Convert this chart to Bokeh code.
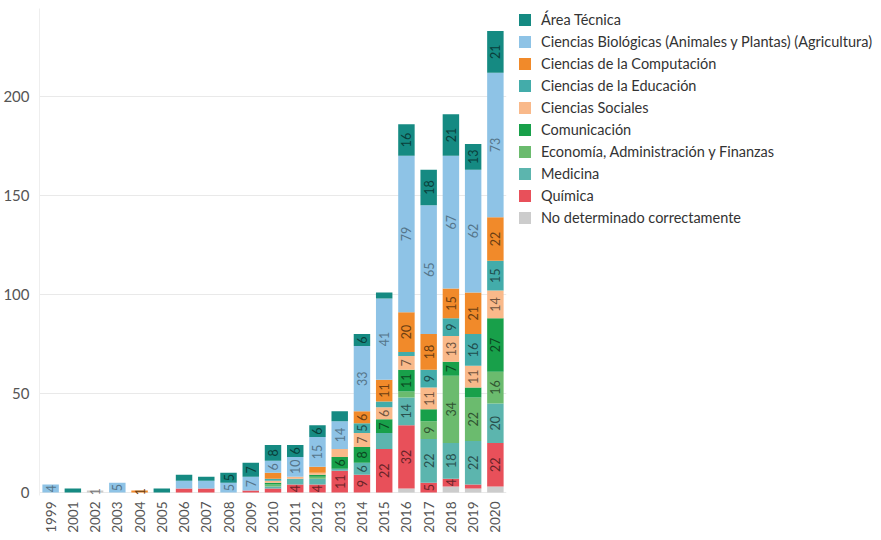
import math
from bokeh.plotting import figure
from bokeh.models import (ColumnDataSource, Range1d, FixedTicker, Legend, LegendItem)
from bokeh.core.properties import value
from bokeh.embed import file_html
from bokeh.resources import INLINE

# ---------------- data ----------------
years = ["1999", "2001", "2002", "2003", "2004", "2005", "2006", "2007", "2008", "2009",
         "2010", "2011", "2012", "2013", "2014", "2015", "2016", "2017", "2018", "2019", "2020"]

no_determinado = [0, 0, 1, 0, 0, 0, 0, 0, 0, 0, 0, 0, 0, 0, 0, 0, 2, 0, 3, 2, 3]
quimica        = [0, 0, 0, 0, 0, 0, 2, 2, 0, 1, 2, 4, 4, 11, 9, 22, 32, 5, 4, 2, 22]
medicina       = [0, 0, 0, 0, 0, 0, 0, 0, 0, 0, 1, 3, 3, 1, 6, 8, 14, 22, 18, 22, 20]
economia       = [0, 0, 0, 0, 0, 0, 0, 0, 0, 0, 1, 0, 1, 0, 0, 0, 3, 9, 34, 22, 16]
comunicacion   = [0, 0, 0, 0, 0, 0, 0, 0, 0, 0, 1, 0, 1, 6, 8, 7, 11, 6, 7, 5, 27]
sociales       = [0, 0, 0, 0, 0, 0, 0, 0, 0, 0, 1, 1, 1, 4, 7, 6, 7, 11, 13, 11, 14]
educacion      = [0, 0, 0, 0, 0, 0, 0, 0, 0, 0, 1, 0, 0, 0, 5, 3, 2, 9, 9, 16, 15]
computacion    = [0, 0, 0, 0, 1, 0, 0, 0, 0, 0, 3, 0, 3, 0, 6, 11, 20, 18, 15, 21, 22]
biologicas     = [4, 0, 0, 5, 0, 0, 4, 4, 5, 7, 6, 10, 15, 14, 33, 41, 79, 65, 67, 62, 73]
area_tecnica   = [0, 2, 0, 0, 0, 2, 3, 2, 5, 7, 8, 6, 6, 5, 6, 3, 16, 18, 21, 13, 21]

# stacking order, bottom to top
series_names = ["No determinado correctamente", "Química", "Medicina",
                "Economía, Administración y Finanzas", "Comunicación", "Ciencias Sociales",
                "Ciencias de la Educación", "Ciencias de la Computación",
                "Ciencias Biológicas (Animales y Plantas) (Agricultura)", "Área Técnica"]
series_values = [no_determinado, quimica, medicina, economia, comunicacion, sociales,
                 educacion, computacion, biologicas, area_tecnica]
series_colors = ["#cccccc", "#e8505a", "#5cb5ae", "#6bbb6e", "#18a04a", "#f9b98a",
                 "#43acaa", "#f18a2a", "#8ec3e6", "#158a82"]

y_ticks = [0, 50, 100, 150, 200]

# segment labels Tableau hid / showed despite their size
label_min = 4
hidden_labels = [("2006", "Ciencias Biológicas (Animales y Plantas) (Agricultura)"),
                 ("2007", "Ciencias Biológicas (Animales y Plantas) (Agricultura)"),
                 ("2013", "Ciencias Sociales"), ("2013", "Área Técnica"),
                 ("2015", "Medicina"), ("2017", "Comunicación"), ("2019", "Comunicación")]
extra_labels = [("2002", "No determinado correctamente"), ("2004", "Ciencias de la Computación")]

FONT = "Lato"

# ---------------- figure ----------------
p = figure(x_range=years, y_range=Range1d(-1.5, 244.4), frame_width=467, frame_height=487,
           output_backend="svg", toolbar_location=None,
           min_border_left=28, min_border_right=0, min_border_top=8, min_border_bottom=30)
p.outline_line_color = None
p.background_fill_color = "white"

src = ColumnDataSource(dict(years=years, **{f"s{i}": v for i, v in enumerate(series_values)}))
renderers = p.vbar_stack([f"s{i}" for i in range(len(series_values))], x="years", width=0.74,
                         color=series_colors, source=src, line_width=0)

# segment labels
def darker(hexc, f=0.5):
    r, g, b = int(hexc[1:3], 16), int(hexc[3:5], 16), int(hexc[5:7], 16)
    return "#%02x%02x%02x" % (int(r * f), int(g * f), int(b * f))

lx, ly, lt, lc = [], [], [], []
for j, yr in enumerate(years):
    base = 0
    for name, vals, col in zip(series_names, series_values, series_colors):
        v = vals[j]
        show = (v >= label_min and (yr, name) not in hidden_labels) or (yr, name) in extra_labels
        if v > 0 and show:
            lx.append(yr)
            ly.append(base + v / 2)
            lt.append(str(v))
            lc.append(darker(col, 0.45 if col not in ("#cccccc", "#8ec3e6") else 0.6))
        base += v
lab_src = ColumnDataSource(dict(x=lx, y=ly, text=lt, color=lc))
p.text(x="x", y="y", text="text", source=lab_src, angle=math.pi / 2,
       text_align="center", text_baseline="middle", text_color="color",
       text_font=value(FONT), text_font_size=value("12.5px"))

# axes
p.yaxis.ticker = FixedTicker(ticks=y_ticks)
p.yaxis.major_tick_line_color = None
p.yaxis.minor_tick_line_color = None
p.yaxis.axis_line_color = "#eeeeee"
p.yaxis.major_label_text_font = FONT
p.yaxis.major_label_text_font_size = "15px"
p.yaxis.major_label_text_color = "#555555"
p.yaxis.major_label_standoff = 4

p.xaxis.major_label_orientation = math.pi / 2
p.xaxis.major_tick_line_color = None
p.xaxis.axis_line_color = None
p.xaxis.major_label_text_font = FONT
p.xaxis.major_label_text_font_size = "13.5px"
p.xaxis.major_label_text_color = "#555555"
p.xaxis.major_label_standoff = 0

p.xgrid.grid_line_color = None
p.ygrid.grid_line_color = "#e9e9e9"
p.ygrid.ticker = FixedTicker(ticks=y_ticks)

items = [LegendItem(label=n, renderers=[r]) for n, r in zip(series_names, renderers)][::-1]
legend = Legend(items=items, location=(11, 269), orientation="vertical",
                glyph_width=15, glyph_height=15, label_standoff=9, spacing=5,
                label_height=15, padding=1, margin=6,
                border_line_color=None, background_fill_alpha=0,
                label_text_font=FONT, label_text_font_size="14.5px", label_text_color="#333333")
p.add_layout(legend, "right")

open("out.html", "w").write(file_html(p, INLINE))
